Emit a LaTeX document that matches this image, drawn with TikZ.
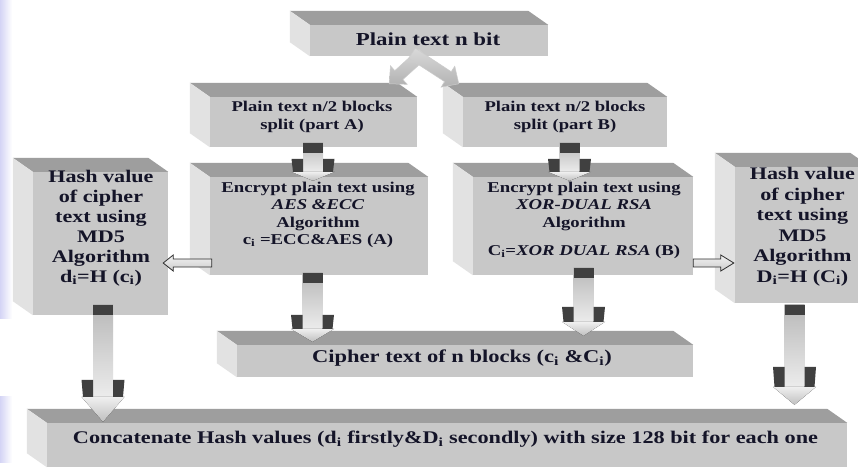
\documentclass[tikz,border=0pt]{standalone}
\usepackage{fontspec}
\setmainfont{Liberation Serif}[FakeStretch=1.25]
\usetikzlibrary{calc}
\definecolor{frontc}{RGB}{200,200,200}
\definecolor{topc}{RGB}{158,158,158}
\definecolor{leftc}{RGB}{226,226,226}
\definecolor{darkc}{RGB}{64,64,64}
\definecolor{txtc}{RGB}{20,20,40}
\definecolor{lavc}{RGB}{212,212,245}
\newcommand\threed[1]{%
  \fill[topc] (#1.north west) -- (#1.north east) -- ++(-20,-14) -- ($(#1.north west)+(-20,-14)$) -- cycle;
  \fill[leftc] (#1.north west) -- ($(#1.north west)+(-20,-14)$) -- ($(#1.south west)+(-20,-14)$) -- (#1.south west) -- cycle;}
% #1 tip coordinate, #2 total length, #3 head height, #4 tab height
\newcommand\myvarrow[4]{%
  \begin{scope}[shift={(#1)}]
    \fill[top color=gray!55, bottom color=gray!15] (-10,-#2) rectangle (10,-#3);
    \fill[top color=gray!12, bottom color=gray!50] (-21.5,-#3) -- (21.5,-#3) -- (0,0) -- cycle;
    \fill[darkc] (-10,-#2) rectangle (10,{-#2+10});
    \fill[darkc] (-21.5,{-#3-#4}) -- (-10,{-#3-#4}) -- (-10,-#3) -- (-20,-#3) -- cycle;
    \fill[darkc] (21.5,{-#3-#4}) -- (10,{-#3-#4}) -- (10,-#3) -- (20,-#3) -- cycle;
  \end{scope}}
% #1 start, #2 tip, #3 shaft half width, #4 head half width, #5 head length, #6 style
\newcommand\myblockarrow[6]{%
  \coordinate (hb) at ($(#2)!#5!(#1)$);
  \path[#6] ($(#1)!#3!90:(#2)$) -- ($(hb)!#3!90:(#2)$) -- ($(hb)!#4!90:(#2)$) -- (#2)
     -- ($(hb)!#4!-90:(#2)$) -- ($(hb)!#3!-90:(#2)$) -- ($(#1)!#3!-90:(#2)$) -- cycle;}
\begin{document}
\begin{tikzpicture}[x=1pt,y=-1pt,
  box/.style={fill=frontc, draw=none, inner sep=0pt},
  txt/.style={text=txtc, align=center, inner sep=0pt},
  hollow/.style={top color=gray!10, bottom color=gray!40, draw=gray!35!black, line width=0.8pt},
  diag/.style={top color=gray!30, bottom color=gray!60, draw=gray!40, line width=0.5pt}]
\useasboundingbox (0,0) rectangle (858,471);
\clip (0,0) rectangle (858,471);
\fill[white] (0,0) rectangle (858,471);
\shade[left color=lavc, right color=white] (0,0) rectangle (12,318);
\shade[left color=lavc, right color=white] (0,396) rectangle (12,462);

% front faces
\node[box, minimum width=238pt, minimum height=31pt] (top) at (429,40.5) {};
\node[box, minimum width=207pt, minimum height=50pt] (A) at (313.5,122) {};
\node[box, minimum width=204pt, minimum height=50pt] (B) at (565,122) {};
\node[box, minimum width=218pt, minimum height=98pt] (encA) at (319,226) {};
\node[box, minimum width=220pt, minimum height=98pt] (encB) at (583,226) {};
\node[box, minimum width=135pt, minimum height=143pt] (hashL) at (100.5,243.5) {};
\node[box, minimum width=135pt, minimum height=136pt] (hashR) at (802.5,235) {};
\node[box, minimum width=456pt, minimum height=32pt] (cipher) at (465,361) {};
\node[box, minimum width=800pt, minimum height=44pt] (concat) at (447,445) {};
\foreach \n in {top,A,B,encA,encB,hashL,hashR,cipher,concat}{\threed{\n}}

% texts
\node[txt, font=\fontsize{18.3}{20}\selectfont\bfseries] (ttop) at (428,39) {Plain text n bit};
\node[txt, font=\fontsize{14.9}{18}\selectfont\bfseries] (tA) at (312,117) {Plain text n/2 blocks\\split (part A)};
\node[txt, font=\fontsize{14.9}{18}\selectfont\bfseries] (tB) at (565,117) {Plain text n/2 blocks\\split (part B)};
\node[txt, font=\fontsize{15}{17.3}\selectfont\bfseries, anchor=north] (tencA) at (318,182)
  {Encrypt plain text using\\\textit{AES \&ECC}\\Algorithm\\c\textsubscript{i} =ECC\&AES (A)};
\node[txt, font=\fontsize{15}{17.3}\selectfont\bfseries, anchor=north] (tencB) at (584,182)
  {Encrypt plain text using\\\textit{XOR-DUAL RSA}\\Algorithm\\[11pt]C\textsubscript{i}=\textit{XOR DUAL RSA} (B)};
\node[txt, font=\fontsize{17.7}{20}\selectfont\bfseries] (thashL) at (101,228)
  {Hash value\\of cipher\\text using\\MD5\\Algorithm\\d\textsubscript{i}=H (c\textsubscript{i})};
\node[txt, font=\fontsize{17.7}{20.5}\selectfont\bfseries] (thashR) at (802.5,226.5)
  {Hash value\\of cipher\\text using\\MD5\\Algorithm\\D\textsubscript{i}=H (C\textsubscript{i})};
\node[txt, font=\fontsize{18}{20}\selectfont\bfseries] (tcipher) at (462,358)
  {Cipher text of n blocks (c\textsubscript{i} \&C\textsubscript{i})};
\node[txt, font=\fontsize{17.8}{20}\selectfont\bfseries] (tconcat) at (445.5,439)
  {Concatenate Hash values (d\textsubscript{i} firstly\&D\textsubscript{i} secondly) with size 128 bit for each one};

% diagonal split arrows
\coordinate (d1s) at ($(top.south)+(-6,-3)$);
\coordinate (d1e) at ($(A.north east)+(-28,-13)$);
\coordinate (d2s) at ($(top.south)+(-17,-3)$);
\coordinate (d2e) at ($(B.north west)+(-4,-13)$);
\myblockarrow{d1s}{d1e}{6pt}{12.5pt}{13pt}{diag}
\myblockarrow{d2s}{d2e}{6pt}{12.5pt}{13pt}{diag}

% vertical block arrows
\coordinate (ta) at ($(A.south |- encA.north)+(-0.5,4)$);
\coordinate (tb) at ($(B.south |- encB.north)+(4.5,4)$);
\coordinate (tc) at ($(encA.south |- cipher.north)+(-6.5,-3)$);
\coordinate (td) at ($(encB.south |- cipher.north)+(0.5,-9)$);
\coordinate (te) at ($(hashL.south |- concat.north)+(2.5,-1)$);
\coordinate (tf) at ($(hashR.south |- concat.north)+(-8,-18)$);
\myvarrow{ta}{38}{9}{13}
\myvarrow{tb}{38}{9}{13}
\myvarrow{tc}{69}{13}{14}
\myvarrow{td}{68}{14}{15}
\myvarrow{te}{117}{25}{17}
\myvarrow{tf}{100}{18}{20}

% horizontal hollow arrows
\coordinate (h1s) at ($(encA.west)+(2,37)$);
\coordinate (h1e) at ($(h1s -| hashL.east)+(-5,0)$);
\coordinate (h2s) at ($(encB.east)+(0,37)$);
\coordinate (h2e) at ($(h2s -| hashR.west)+(-1,0)$);
\myblockarrow{h1s}{h1e}{4pt}{8pt}{10pt}{hollow}
\myblockarrow{h2s}{h2e}{4pt}{8pt}{13pt}{hollow}
\end{tikzpicture}
\end{document}
